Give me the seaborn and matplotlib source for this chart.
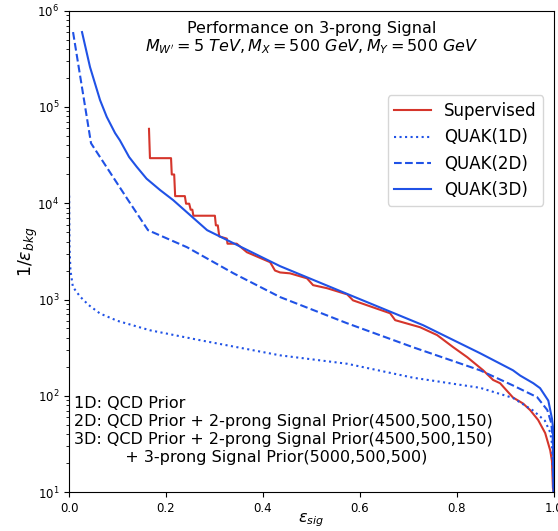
import matplotlib
matplotlib.use("Agg")
import matplotlib.pyplot as plt
import seaborn as sns

# Signal efficiency vs background rejection (1/eps_bkg)
sup_eff = [0.165, 0.167, 0.2105, 0.212, 0.217, 0.219, 0.239, 0.2415, 0.248, 0.251,
           0.2545, 0.2566, 0.301, 0.303, 0.307, 0.310, 0.3256, 0.327, 0.346, 0.367,
           0.415, 0.425, 0.4355, 0.456, 0.491, 0.5036, 0.5325, 0.574, 0.586, 0.627,
           0.6625, 0.673, 0.7245, 0.7595, 0.7926, 0.8215, 0.8545, 0.875, 0.8895, 0.916,
           0.937, 0.9515, 0.968, 0.9825, 0.993, 0.9965, 0.9985, 1.0]
sup_rej = [59300, 29400, 29400, 19900, 19900, 11860, 11860, 9890, 9890, 8570,
           8570, 7420, 7420, 5890, 5890, 4530, 4290, 3800, 3800, 3100,
           2440, 2000, 1910, 1870, 1660, 1410, 1310, 1130, 980, 830,
           720, 610, 515, 427, 320, 252, 184, 146, 135, 96,
           83, 71, 56, 41, 27, 21, 11, 10]

q1_eff = [0.0003, 0.001, 0.003, 0.008, 0.023, 0.04, 0.064, 0.10, 0.167, 0.27,
          0.4355, 0.574, 0.71, 0.848, 0.916, 0.958, 0.982, 0.993, 0.9965, 1.0]
q1_rej = [12000, 3500, 2000, 1350, 1070, 880, 715, 600, 479, 378,
          263, 215, 154, 121, 95, 70, 55, 41.5, 32, 10]

q2_eff = [0.0083, 0.0454, 0.1218, 0.163, 0.2436, 0.3395, 0.4355, 0.574, 0.71, 0.848,
          0.916, 0.966, 0.987, 0.995, 0.998, 1.0]
q2_rej = [600000, 42000, 10800, 5250, 3490, 1870, 1060, 566, 319, 184,
          128, 96.6, 71, 52, 37, 10]

q3_eff = [0.0268, 0.0433, 0.064, 0.0778, 0.095, 0.105, 0.124, 0.1397, 0.160, 0.188,
          0.2147, 0.285, 0.339, 0.4355, 0.58, 0.7306, 0.848, 0.916, 0.931, 0.958,
          0.972, 0.989, 0.9965, 0.9985, 1.0]
q3_rej = [600000, 260000, 118000, 79000, 53600, 45000, 30200, 23900, 18000, 13700,
          10800, 5250, 3850, 2220, 1110, 541, 277, 184, 162, 135,
          120, 89, 58, 48, 10]

labels = ["Supervised", "QUAK(1D)", "QUAK(2D)", "QUAK(3D)"]
x_ticks = [0.0, 0.2, 0.4, 0.6, 0.8, 1.0]

red = "#d5352b"
blue = "#2052e6"

fig = plt.figure(figsize=(5.58, 5.31), dpi=100)
ax = fig.add_axes([0.1237, 0.0734, 0.8685, 0.9064])

lw = 1.5
sns.lineplot(x=sup_eff, y=sup_rej, ax=ax, color=red, lw=lw, sort=False,
             estimator=None, label=labels[0])
sns.lineplot(x=q1_eff, y=q1_rej, ax=ax, color=blue, lw=lw, linestyle=":",
             sort=False, estimator=None, label=labels[1])
sns.lineplot(x=q2_eff, y=q2_rej, ax=ax, color=blue, lw=lw, linestyle="--",
             sort=False, estimator=None, label=labels[2])
sns.lineplot(x=q3_eff, y=q3_rej, ax=ax, color=blue, lw=lw, linestyle="-",
             sort=False, estimator=None, label=labels[3])

ax.set_yscale("log")
ax.set_xlim(0.0, 1.0)
ax.set_ylim(10, 1e6)
ax.set_xticks(x_ticks)
ax.set_xticklabels([f"{t:.1f}" for t in x_ticks])
ax.tick_params(labelsize=8.5)

ax.set_xlabel(r"$\epsilon_{sig}$", fontsize=11.5, labelpad=-2.5)
ax.set_ylabel(r"1/$\epsilon_{bkg}$", fontsize=12.5, labelpad=-2)

ax.text(0.5, 0.978,
        "Performance on 3-prong Signal\n"
        r"$M_{W'}=5\ TeV, M_X=500\ GeV, M_Y=500\ GeV$",
        transform=ax.transAxes, ha="center", va="top", fontsize=11.5,
        linespacing=1.1)

ax.text(0.011, 0.199,
        "1D: QCD Prior\n"
        "2D: QCD Prior + 2-prong Signal Prior(4500,500,150)\n"
        "3D: QCD Prior + 2-prong Signal Prior(4500,500,150)\n"
        "          + 3-prong Signal Prior(5000,500,500)",
        transform=ax.transAxes, ha="left", va="top", fontsize=11.5,
        linespacing=1.24)

ax.legend(loc="upper right", bbox_to_anchor=(0.979, 0.824), borderaxespad=0,
          fontsize=12, handlelength=2.2)

fig.savefig("out.png", dpi=100)
